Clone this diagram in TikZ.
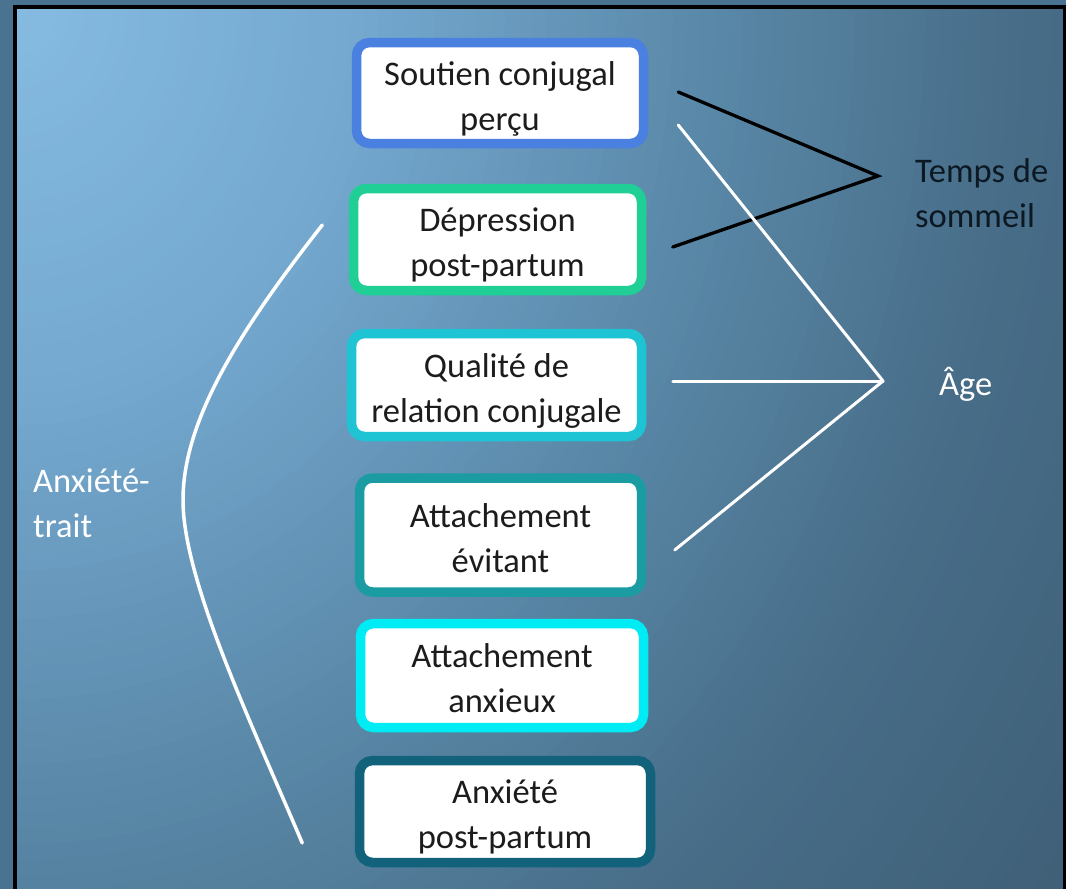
\documentclass[tikz,border=0pt]{standalone}
\usepackage{fontspec}
\setmainfont{Carlito}
\usetikzlibrary{calc}
\definecolor{margincol}{HTML}{4A7391}
\definecolor{bgA}{HTML}{86BBE2}
\definecolor{bgB}{HTML}{74A8CF}
\definecolor{bgC}{HTML}{5A88A8}
\definecolor{bgD}{HTML}{476D88}
\definecolor{bgE}{HTML}{3D5B72}
\definecolor{boxA}{HTML}{4A80E0}
\definecolor{boxB}{HTML}{20CF95}
\definecolor{boxC}{HTML}{1FC4D4}
\definecolor{boxD}{HTML}{1B9BA2}
\definecolor{boxE}{HTML}{00ECF4}
\definecolor{boxF}{HTML}{12627C}
\definecolor{boxtext}{HTML}{1C1C1C}
\definecolor{tstext}{HTML}{0C1822}
\newcommand{\twol}[2]{\rule{0pt}{37pt}#1\\#2\rule[-8pt]{0pt}{8pt}}
\begin{document}
\begin{tikzpicture}[x=1pt,y=-1pt,
  boxstyle/.style={draw, line width=9.5pt, fill=white, rounded corners=13pt, align=center,
    font=\fontsize{34.5}{45}\selectfont, text=boxtext, inner sep=0pt},
  link/.style={line width=3pt, line cap=round},
  lbl/.style={font=\fontsize{34.5}{45}\selectfont, align=left, inner sep=0pt}]
\useasboundingbox (0,0) rectangle (1066,889);
% background
\fill[margincol] (0,0) rectangle (1066,889);
\begin{scope}
  \clip (15,7) rectangle (1065,900);
  \fill[bgE] (15,7) rectangle (1065,900);
  \foreach \i in {100,99,...,1}{
    \pgfmathsetmacro{\t}{\i/2}
    \ifdim\t pt<12.5pt
      \pgfmathsetmacro{\p}{\t/12.5*100}\colorlet{cc}{bgB!\p!bgA}
    \else\ifdim\t pt<25pt
      \pgfmathsetmacro{\p}{(\t-12.5)/12.5*100}\colorlet{cc}{bgC!\p!bgB}
    \else\ifdim\t pt<36pt
      \pgfmathsetmacro{\p}{(\t-25)/11*100}\colorlet{cc}{bgD!\p!bgC}
    \else
      \pgfmathsetmacro{\p}{(\t-36)/14*100}\colorlet{cc}{bgE!\p!bgD}
    \fi\fi\fi
    \fill[cc] (15,7) ellipse ({\i*14} and {\i*16.1});
  }
\end{scope}
\draw[black, line width=3.5pt] (15,950) -- (15,7) -- (1065,7) -- (1065,950);
% boxes
\node[boxstyle, draw=boxA, minimum width=287pt, minimum height=101pt] (soutien) at (500,93) {\twol{Soutien conjugal}{perçu}};
\node[boxstyle, draw=boxB, minimum width=288pt, minimum height=102pt] (depr) at (497.5,239.5) {\twol{Dépression}{post-partum}};
\node[boxstyle, draw=boxC, minimum width=290pt, minimum height=103pt] (qual) at (496.5,385) {\twol{Qualité de}{relation conjugale}};
\node[boxstyle, draw=boxD, minimum width=282pt, minimum height=114pt] (evit) at (500.5,535) {\twol{Attachement}{évitant}};
\node[boxstyle, draw=boxE, minimum width=283pt, minimum height=104pt] (anxx) at (502,675.5) {\twol{Attachement}{anxieux}};
\node[boxstyle, draw=boxF, minimum width=291pt, minimum height=102pt] (anxpp) at (505,811.5) {\twol{Anxiété}{post-partum}};
% labels
\node[lbl, text=tstext, anchor=north west] (temps) at (915,145) {\twol{Temps de}{sommeil}};
\node[lbl, text=white, anchor=base west] (age) at (939,395) {Âge};
\node[lbl, text=white, anchor=north west] (trait) at (33,455) {\twol{Anxiété-}{trait}};
% connector points
\coordinate (tsv) at ($(temps.north west)+(-37,31)$);
\coordinate (agev) at ($(age.base west)+(-56,-14)$);
\coordinate (s1b) at ($(soutien.east)+(30,-1)$);
\coordinate (s1w) at ($(soutien.east)+(30,32)$);
\coordinate (d2b) at ($(depr.east)+(26.5,7.5)$);
\coordinate (q3w) at ($(qual.east)+(26.5,-4)$);
\coordinate (a4w) at ($(evit.east)+(28.5,15)$);
\coordinate (ctop) at ($(depr.west)+(-26.5,-14.5)$);
\coordinate (cbot) at ($(anxpp.west)+(-52.5,31.5)$);
\coordinate (cmid) at (183,500);
% connectors
\draw[link, black, line width=3.3pt] (s1b) -- (tsv) -- (d2b);
\draw[link, white] (s1w) -- (agev);
\draw[link, white] (q3w) -- (agev);
\draw[link, white] (a4w) -- (agev);
\draw[link, white, line width=3.5pt] (ctop) .. controls (240,330) and (183,420) .. (cmid)
  .. controls (183,580) and (250,720) .. (cbot);
\end{tikzpicture}
\end{document}
